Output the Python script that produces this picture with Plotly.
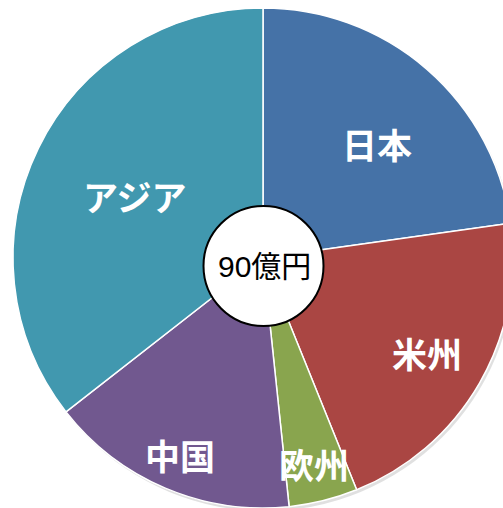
import math
import plotly.graph_objects as go

# ---- data ----
regions = ["日本", "米州", "欧州", "中国", "アジア"]
sales = [20.5, 19.0, 4.0, 14.5, 32.0]  # 億円, total 90
total_label = "90億円"

# ---- styling / layout config ----
colors = ["#4572A7", "#AA4643", "#89A54E", "#71588F", "#4198AF"]
label_radius = [0.645, 0.756, 0.848, 0.852, 0.568]  # fraction of pie radius
label_angle_offset = [4.0, 0.0, 0.0, 0.0, 0.0]       # degrees

W, H = 526, 508
PIE_TOP_PX = 8            # pie domain box top in px
CX, CY, R = W / 2, PIE_TOP_PX + (H - PIE_TOP_PX) / 2, (H - PIE_TOP_PX) / 2

fig = go.Figure(go.Pie(
    labels=regions,
    values=sales,
    sort=False,
    direction="clockwise",
    rotation=0,
    marker=dict(colors=colors, line=dict(color="white", width=1.5)),
    textinfo="none",
    hoverinfo="label+value",
    showlegend=False,
    domain=dict(x=[0, 1], y=[0, (H - PIE_TOP_PX) / H]),
))

def px_to_paper(xp, yp):
    return xp / W, 1 - yp / H

# labels placed at mid-angle of each slice
tot = sum(sales)
cum = 0.0
annotations = []
for name, v, rf, off in zip(regions, sales, label_radius, label_angle_offset):
    mid = (cum + v / 2) / tot * 2 * math.pi + math.radians(off)
    cum += v
    xp = CX + rf * R * math.sin(mid)
    yp = CY - rf * R * math.cos(mid)
    x, y = px_to_paper(xp, yp)
    annotations.append(dict(
        x=x, y=y, xref="paper", yref="paper", text=name, showarrow=False,
        font=dict(family="Noto Sans CJK JP", size=35, color="white", weight="bold"),
        xanchor="center", yanchor="middle",
    ))

# centre badge
bx, by, br = CX + 0.5, CY + 8, 60
x0, y0 = px_to_paper(bx - br, by - br)
x1, y1 = px_to_paper(bx + br, by + br)
tx, ty = px_to_paper(bx + 1, by)
annotations.append(dict(
    x=tx, y=ty, xref="paper", yref="paper", text=total_label, showarrow=False,
    font=dict(family="Liberation Sans, Noto Sans CJK JP", size=30, color="black"),
    xanchor="center", yanchor="middle",
))

# soft shadow under the pie
sx0, sy0 = px_to_paper(CX - R + 2, CY - R + 3)
sx1, sy1 = px_to_paper(CX + R + 2, CY + R + 3)

fig.update_layout(
    width=W, height=H,
    margin=dict(l=0, r=0, t=0, b=0),
    paper_bgcolor="white",
    plot_bgcolor="white",
    annotations=annotations,
    shapes=[
        dict(type="circle", xref="paper", yref="paper", x0=sx0, y0=sy1, x1=sx1, y1=sy0,
             fillcolor="rgba(0,0,0,0.12)", line=dict(width=0), layer="below"),
        dict(type="circle", xref="paper", yref="paper", x0=x0, y0=y1, x1=x1, y1=y0,
             fillcolor="white", line=dict(color="black", width=2), layer="above"),
    ],
)

fig.write_html(
    "out.html",
    config={"displayModeBar": False},
    post_script="document.body.style.margin='0';document.body.style.overflow='hidden';",
)
